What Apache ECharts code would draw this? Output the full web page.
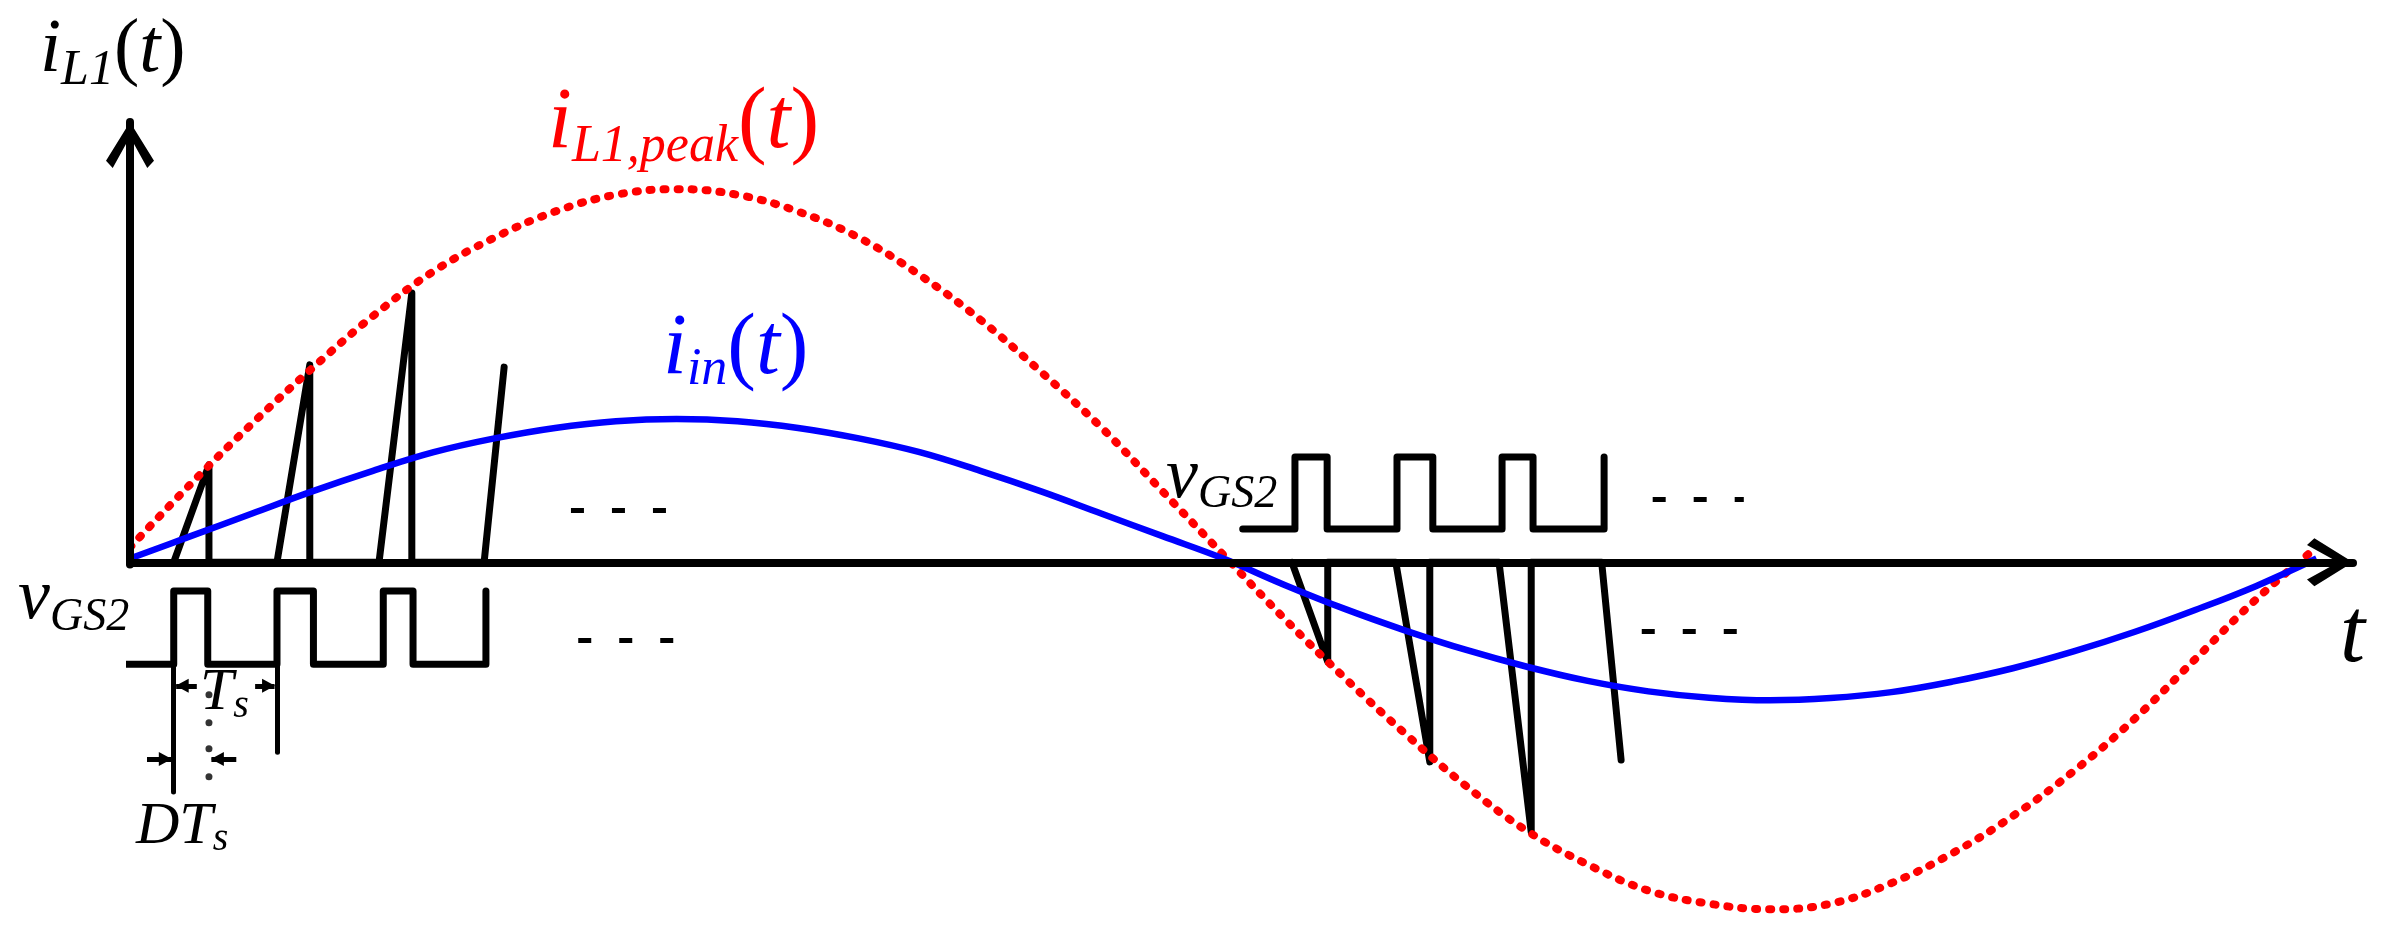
<!DOCTYPE html>
<html>
<head>
<meta charset="utf-8">
<script src="https://cdn.jsdelivr.net/npm/echarts@6/dist/echarts.min.js"></script>
<style>
  html, body { margin: 0; padding: 0; background: #fff; }
  #chart { width: 2388px; height: 931px; }
</style>
</head>
<body>
<div id="chart"></div>
<script>
// line-cycle phase, degrees
const phase = [0, 10, 20, 30, 40, 50, 60, 70, 80, 90, 100, 110, 120, 130, 140, 150, 160, 170, 180,
  190, 200, 210, 220, 230, 240, 250, 260, 270, 280, 290, 300, 310, 320, 330, 340, 350, 360];
// i_L1,peak(t) envelope (red, dotted)
const peakCurrent = [4, 21, 37, 52, 66, 78, 87, 94, 98.5, 100, 98.5, 94, 87, 77, 65, 51, 36, 19, 2,
  -15, -31, -46, -60, -72, -81, -88, -91.5, -93, -91.5, -86, -78, -68, -56, -42, -26, -10, 4];
// i_in(t) (blue)
const inputCurrent = [1, 7, 13, 19, 24.5, 29.5, 33.2, 36, 37.8, 38.4, 37.8, 36, 33.2, 29.5, 24.5, 19, 13, 7, 1,
  -6, -12.5, -18.3, -23.5, -28, -31.8, -34.6, -36.3, -37, -36.4, -34.8, -32, -28.4, -23.9, -18.7, -12.8, -6.4, 1];

// inductor current ramps, positive half cycle
const rampTime1 = [7.2, 13.0, 13.0, 24.2, 29.6, 29.6, 41.0, 46.4, 46.4, 58.3, 61.6];
const rampCurrent1 = [0, 26.1, 0, 0, 52.9, 0, 0, 72.2, 0, 0, 52.3];
// inductor current ramps, negative half cycle
const rampTime2 = [191.3, 197.2, 197.2, 208.4, 214.0, 214.0, 225.4, 230.7, 230.7, 242.3, 245.5];
const rampCurrent2 = [0, -26.7, 0, 0, -53.5, 0, 0, -72.3, 0, 0, -53.0];

// gate signal v_GS2: edge times and state after each edge
const gateEdges1 = [-0.8, 7.2, 12.8, 24.2, 30.2, 41.7, 46.6, 58.6];
const gateEdges2 = [183.2, 191.8, 197.1, 208.6, 214.5, 225.9, 231.0, 242.7];
const gateStates = [0, 1, 0, 1, 0, 1, 0, 1];
const gateLevels1 = [-27.3, -7.7];
const gateLevels2 = [8.9, 28.2];

const xMax = 366;
const yMin = -94;
const yMax = 118;

const FONT = '"Liberation Serif", "Times New Roman", serif';
const MID = 0.3375;
const chevron = 'path://M50,0 L100,84 L86,100 L50,32 L14,100 L0,84 Z';

const pairs = (xs, ys) => xs.map((x, i) => [x, ys[i]]);
const gateData = (edges, levels) => edges.map((t, i) => [t, levels[gateStates[i]]]);
const seg = (a, b) => [{ coord: a }, { coord: b }];

function mathText(x, base, parts, color, ms, ss, drop) {
  const pad = 2 * (MID * (ms - ss) + drop);
  const lh = Math.max(Math.round(ms * 1.3), Math.ceil(ss + pad + 2));
  return {
    type: 'text',
    x: x,
    y: base - MID * ms - lh / 2,
    silent: true,
    z: 50,
    style: {
      text: parts.map(([t, k]) => '{' + k + '|' + t + '}').join(''),
      rich: {
        m: { fontSize: ms, fontStyle: 'italic', fontFamily: FONT, fill: color, lineHeight: lh },
        p: { fontSize: ms, fontStyle: 'normal', fontFamily: FONT, fill: color, lineHeight: lh },
        s: { fontSize: ss, fontStyle: 'italic', fontFamily: FONT, fill: color, lineHeight: ss, padding: [pad, 0, 0, 0] }
      }
    }
  };
}

const helper = (name, markLine) => ({
  name: name,
  type: 'line',
  data: [],
  silent: true,
  markLine: Object.assign({ silent: true, label: { show: false }, emphasis: { disabled: true } }, markLine)
});

const blackLine = (name, data, extra) => Object.assign({
  name: name,
  type: 'line',
  data: data,
  showSymbol: false,
  silent: true,
  lineStyle: { color: '#000', width: 7, cap: 'round', join: 'round' }
}, extra);

const chart = echarts.init(document.getElementById('chart'));

const option = {
  backgroundColor: '#fff',
  animation: false,
  grid: { left: 130, right: 35, top: 122, bottom: 18 },
  xAxis: { type: 'value', min: 0, max: xMax, show: false },
  yAxis: { type: 'value', min: yMin, max: yMax, show: false },
  series: [
    helper('axes', {
      symbol: ['none', chevron],
      symbolSize: [48, 46],
      symbolOffset: [0, [0, 23]],
      lineStyle: { color: '#000', width: 8, type: 'solid', cap: 'round' },
      data: [seg([0, -0.6], [0, yMax]), seg([0, 0], [xMax, 0])]
    }),
    helper('period marks', {
      symbol: ['none', 'none'],
      lineStyle: { color: '#000', width: 5, type: 'solid', cap: 'round' },
      data: [seg([7.2, gateLevels1[0]], [7.2, -61.6]), seg([24.2, gateLevels1[0]], [24.2, -50.9])]
    }),
    helper('period arrows', {
      symbol: ['none', 'triangle'],
      symbolSize: [14, 13],
      symbolOffset: [0, [0, 6]],
      lineStyle: { color: '#000', width: 5, type: 'solid' },
      data: [
        seg([11.0, -33.1], [7.6, -33.1]),
        seg([20.6, -33.1], [23.8, -33.1]),
        seg([2.8, -52.7], [6.8, -52.7]),
        seg([17.5, -52.7], [13.4, -52.7])
      ]
    }),
    helper('continuation', {
      symbol: ['none', 'none'],
      lineStyle: { color: '#000', width: 5, type: [13, 28] },
      data: [
        seg([72.6, 14.0], [88.4, 14.0]),
        seg([73.8, -20.8], [89.9, -20.8]),
        seg([250.7, 17.0], [265.7, 17.0]),
        seg([248.9, -18.6], [265.2, -18.6])
      ]
    }),
    {
      name: 'DTs end',
      type: 'scatter',
      silent: true,
      symbolSize: 7,
      itemStyle: { color: '#000' },
      data: [[13.0, -35.5], [13.0, -43.0], [13.0, -50.0], [13.0, -57.5]]
    },
    blackLine('gate 1', gateData(gateEdges1, gateLevels1), { step: 'end', clip: false }),
    blackLine('gate 2', gateData(gateEdges2, gateLevels2), { step: 'end' }),
    blackLine('iL1 positive', pairs(rampTime1, rampCurrent1)),
    blackLine('iL1 negative', pairs(rampTime2, rampCurrent2)),
    {
      name: 'iL1,peak',
      type: 'line',
      data: pairs(phase, peakCurrent),
      smooth: 0.4,
      showSymbol: false,
      silent: true,
      lineStyle: { color: '#ff0000', width: 8, type: [2, 12], cap: 'round' }
    },
    {
      name: 'iin',
      type: 'line',
      data: pairs(phase, inputCurrent),
      smooth: 0.4,
      showSymbol: false,
      silent: true,
      lineStyle: { color: '#0000ff', width: 6.5 }
    }
  ],
  graphic: [
    mathText(40, 77, [['i', 'm'], ['L1', 's'], ['(', 'p'], ['t', 'm'], [')', 'p']], '#000', 76, 50, 11),
    mathText(548, 153, [['i', 'm'], ['L1,peak', 's'], ['(', 'p'], ['t', 'm'], [')', 'p']], '#ff0000', 86, 52, 12),
    mathText(663, 379, [['i', 'm'], ['in', 's'], ['(', 'p'], ['t', 'm'], [')', 'p']], '#0000ff', 86, 52, 9),
    mathText(2340, 668, [['t', 'm']], '#000', 90, 50, 0),
    mathText(18, 623, [['v', 'm'], ['GS2', 's']], '#000', 72, 46, 10),
    mathText(1166, 502, [['v', 'm'], ['GS2', 's']], '#000', 72, 46, 8),
    mathText(200, 713, [['T', 'm'], ['s', 's']], '#000', 60, 40, 7),
    mathText(136, 847, [['D', 'm'], ['T', 'm'], ['s', 's']], '#000', 60, 40, 6)
  ]
};

chart.setOption(option);
</script>
</body>
</html>
